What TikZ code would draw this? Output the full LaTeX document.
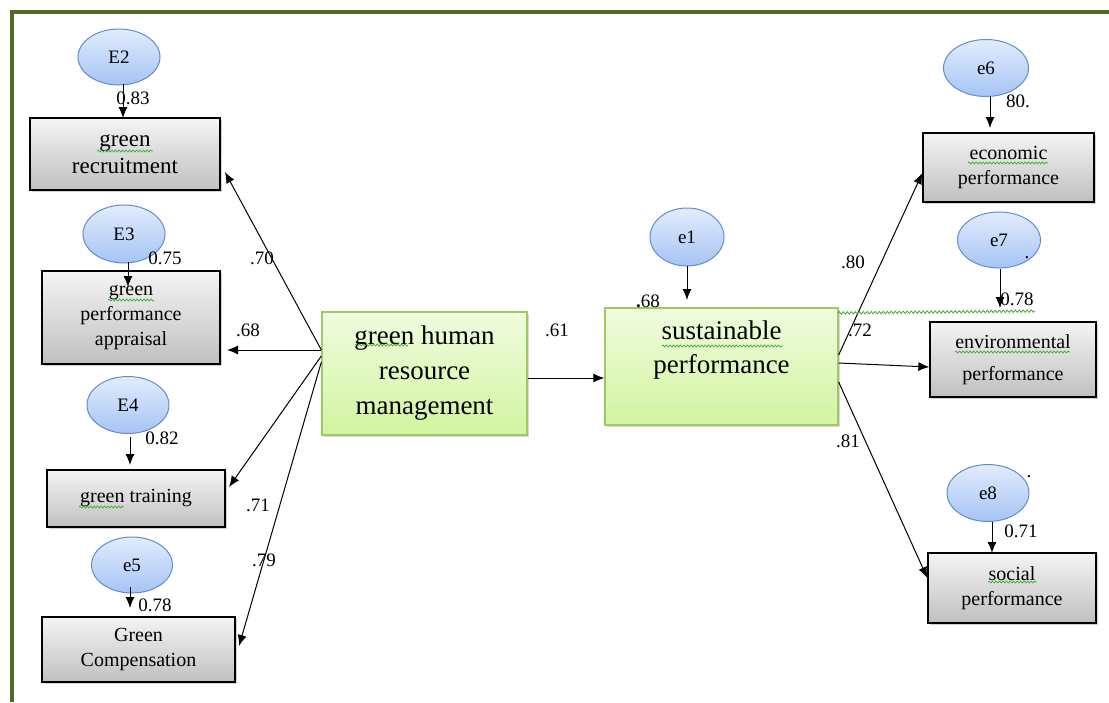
\documentclass[tikz,border=0pt]{standalone}
\usepackage{fontspec}
\setmainfont{Liberation Serif}
\usetikzlibrary{arrows.meta,shadows,decorations.pathmorphing,calc,shapes.geometric}
\definecolor{framecol}{RGB}{84,104,40}
\definecolor{boxtop}{RGB}{244,244,244}
\definecolor{boxbot}{RGB}{192,192,192}
\definecolor{gtop}{RGB}{240,252,222}
\definecolor{gbot}{RGB}{210,244,160}
\definecolor{gborder}{RGB}{160,200,100}
\definecolor{etop}{RGB}{226,236,253}
\definecolor{ebot}{RGB}{166,196,244}
\definecolor{eborder}{RGB}{100,140,205}
\definecolor{sqg}{RGB}{60,170,60}
\begin{document}
\begin{tikzpicture}[x=1pt,y=-1pt,
  obs/.style={draw=black, line width=1.3pt, top color=boxtop, bottom color=boxbot,
    drop shadow={opacity=0.35, shadow xshift=2pt, shadow yshift=-2pt},
    inner sep=0pt, align=center, font=\fontsize{20}{25}\selectfont},
  lat/.style={draw=gborder, line width=1.3pt, top color=gtop, bottom color=gbot,
    drop shadow={opacity=0.3, shadow xshift=2pt, shadow yshift=-2pt},
    inner sep=0pt, align=center, font=\fontsize{27}{35}\selectfont},
  err/.style={ellipse, draw=eborder, line width=1pt, top color=etop, bottom color=ebot,
    inner sep=0pt, font=\fontsize{19}{22}\selectfont},
  arr/.style={-{Latex[length=11pt,width=9pt]}, line width=1pt},
  lbl/.style={inner sep=0pt, font=\fontsize{19}{22}\selectfont},
  sqline/.style={sqg, line width=0.7pt, decorate, decoration={snake, amplitude=1pt, segment length=3.5pt}}
]
\useasboundingbox (0,0) rectangle (1109,702);
\fill[white] (0,0) rectangle (1109,702);
% frame
\coordinate (fa) at (10,12);
\coordinate (fb) at (1109,12);
\coordinate (fc) at (12,10);
\coordinate (fd) at (12,702);
\draw[framecol, line width=4pt] (fa) -- (fb);
\draw[framecol, line width=4pt] (fc) -- (fd);

% left observed boxes
\node[obs, minimum width=190pt, minimum height=72pt, font=\fontsize{23}{27}\selectfont] (rec) at (125,154) {green\\recruitment};
\node[obs, minimum width=178pt, minimum height=93pt] (app) at (131,317.5) {green\\performance\\appraisal};
\node[obs, minimum width=178pt, minimum height=57pt] (trn) at (136,498.5) {green training};
\node[obs, minimum width=193pt, minimum height=65pt] (cmp) at (138.5,649.5) {Green\\Compensation};

% center
\node[lat, minimum width=205pt, minimum height=123pt] (ghrm) at (424.5,373.5) {green human\\resource\\management};
\node[lat, minimum width=233pt, minimum height=117pt] (sp) at (721.5,366.5) {};
\node[inner sep=0pt, align=center, font=\fontsize{27}{34}\selectfont] (sptext) at (721.5,350) {sustainable\\performance};

% right observed boxes
\node[obs, minimum width=171pt, minimum height=69pt] (eco) at (1008.5,167.5) {economic\\performance};
\node[obs, minimum width=166pt, minimum height=75pt, font=\fontsize{20}{32}\selectfont] (env) at (1013,359.5) {environmental\\performance};
\node[obs, minimum width=168pt, minimum height=70pt] (soc) at (1012,588) {social\\performance};

% spelling squiggles
\coordinate (q1a) at (97,151);  \coordinate (q1b) at (153,151);
\coordinate (q2a) at (108,300); \coordinate (q2b) at (154,300);
\coordinate (q3a) at (79,507);  \coordinate (q3b) at (124,507);
\coordinate (q4a) at (355,345); \coordinate (q4b) at (408,345);
\coordinate (q5a) at (662,346); \coordinate (q5b) at (783,346);
\coordinate (q6a) at (968,163); \coordinate (q6b) at (1048,163);
\coordinate (q7a) at (955,352); \coordinate (q7b) at (1070,352);
\coordinate (q8a) at (988,582); \coordinate (q8b) at (1037,582);
\foreach \q in {1,...,8} {\draw[sqline] (q\q a) -- (q\q b);}

% error ellipses
\node[err, minimum width=82pt, minimum height=56pt] (E2) at (119,57) {E2};
\node[err, minimum width=82pt, minimum height=58pt] (E3) at (124,234) {E3};
\node[err, minimum width=82pt, minimum height=57pt] (E4) at (128,405) {E4};
\node[err, minimum width=81pt, minimum height=56pt] (e5) at (132,565) {e5};
\node[err, minimum width=74pt, minimum height=58pt] (e1) at (687,237) {e1};
\node[err, minimum width=85pt, minimum height=57pt] (e6) at (986,68) {e6};
\node[err, minimum width=83pt, minimum height=56pt] (e7) at (999,240) {e7};
\node[err, minimum width=82pt, minimum height=57pt] (e8) at (988,493) {e8};

% error arrows
\coordinate (e2a) at (123,84);
\coordinate (e2b) at (123,118);
\coordinate (e3a) at (128,262);
\coordinate (e3b) at (128,287);
\coordinate (e4a) at (130,437);
\coordinate (e4b) at (130,465);
\coordinate (e5a) at (130,587);
\coordinate (e5b) at (130,608);
\coordinate (e1a) at (687,266);
\coordinate (e1b) at (687,300);
\coordinate (e6a) at (990,96);
\coordinate (e6b) at (990,128);
\coordinate (e7a) at (1000,269);
\coordinate (e7b) at (1000,308);
\coordinate (e8a) at (992,522);
\coordinate (e8b) at (992,553);
\draw[arr] (e2a) -- (e2b);
\draw[arr] (e3a) -- (e3b);
\draw[arr] (e4a) -- (e4b);
\draw[arr] (e5a) -- (e5b);
\draw[arr] (e1a) -- (e1b);
\draw[arr] (e6a) -- (e6b);
\draw[arr] (e7a) -- (e7b);
\draw[arr] (e8a) -- (e8b);

% structural paths
\coordinate (g1) at (ghrm.west |- 0,350);
\coordinate (g2) at (ghrm.west |- 0,350);
\coordinate (g3) at (ghrm.west |- 0,356);
\coordinate (g4) at (ghrm.west |- 0,362);
\coordinate (t1) at (225,172);
\coordinate (t2) at (227,350);
\coordinate (t3) at (229,487);
\coordinate (t4) at (239,646);
\draw[arr] (g1) -- (t1);
\draw[arr] (g2) -- (t2);
\draw[arr] (g3) -- (t3);
\draw[arr] (g4) -- (t4);
\draw[arr] (ghrm.east |- 0,378) -- (sp.west |- 0,378);
\coordinate (s1) at (sp.east |- 0,355);
\coordinate (s2) at (sp.east |- 0,363);
\coordinate (s3) at (sp.east |- 0,382);
\draw[arr] (s1) -- (eco.west |- 0,173);
\draw[arr] (s2) -- (env.west |- 0,367);
\draw[arr] (s3) -- (soc.west |- 0,578);

% green wavy line
\coordinate (w1) at (838,313);
\coordinate (w2) at (1035,311);
\draw[sqg, line width=0.8pt, decorate, decoration={snake, amplitude=1.2pt, segment length=4pt}] (w1) -- (w2);

% labels
\node[lbl] (l1) at (133,98) {0.83};
\node[lbl] (l2) at (165,258) {0.75};
\node[lbl] (l3) at (162,438) {0.82};
\node[lbl] (l4) at (155,605) {0.78};
\node[lbl] (l5) at (262,258) {.70};
\node[lbl] (l6) at (248,330) {.68};
\node[lbl] (l7) at (258,505) {.71};
\node[lbl] (l8) at (264,560) {.79};
\node[lbl] (l9) at (557,330) {.61};
\node[lbl] (l10) at (648,301) {\textbf{.}68};
\node[lbl] (l11) at (853,262) {.80};
\node[lbl] (l12) at (860,330) {.72};
\node[lbl] (l13) at (848,441) {.81};
\node[lbl] (l14) at (1018,101) {80.};
\node[lbl] (l15) at (1017,299) {0.78};
\node[lbl] (l16) at (1021,531) {0.71};
\node[lbl] (l17) at (1027,258) {.};
\node[lbl] (l18) at (1029,477) {.};
\end{tikzpicture}
\end{document}
